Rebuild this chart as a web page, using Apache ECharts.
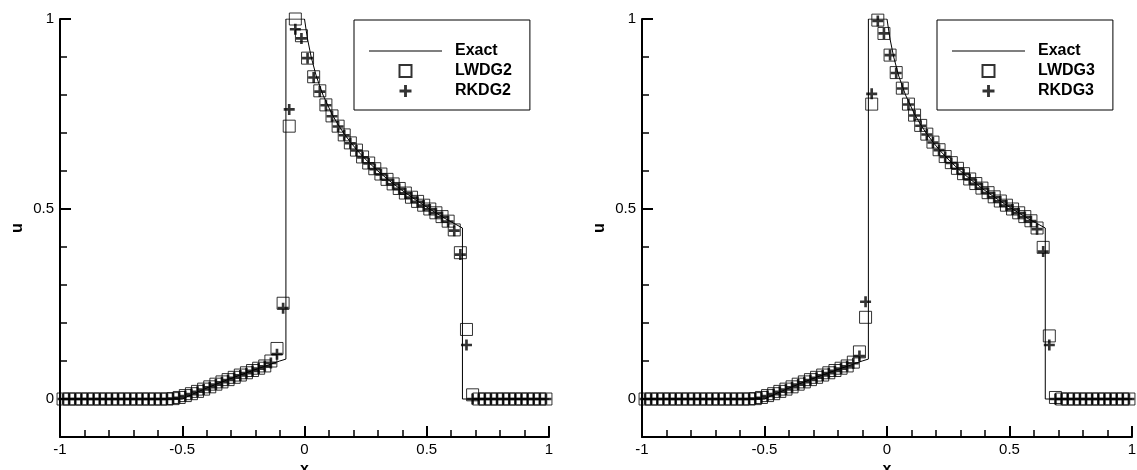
<!DOCTYPE html>
<html>
<head>
<meta charset="utf-8">
<script src="https://cdn.jsdelivr.net/npm/echarts@6/dist/echarts.min.js"></script>
<style>
html,body{margin:0;padding:0;background:#fff;}
#c{width:1137px;height:470px;}
</style>
</head>
<body>
<div id="c"></div>
<script>
// cell centres of the 80-cell mesh
const xCells = [
-0.9875,-0.9625,-0.9375,-0.9125,-0.8875,-0.8625,-0.8375,-0.8125,-0.7875,-0.7625,
-0.7375,-0.7125,-0.6875,-0.6625,-0.6375,-0.6125,-0.5875,-0.5625,-0.5375,-0.5125,
-0.4875,-0.4625,-0.4375,-0.4125,-0.3875,-0.3625,-0.3375,-0.3125,-0.2875,-0.2625,
-0.2375,-0.2125,-0.1875,-0.1625,-0.1375,-0.1125,-0.0875,-0.0625,-0.0375,-0.0125,
0.0125,0.0375,0.0625,0.0875,0.1125,0.1375,0.1625,0.1875,0.2125,0.2375,
0.2625,0.2875,0.3125,0.3375,0.3625,0.3875,0.4125,0.4375,0.4625,0.4875,
0.5125,0.5375,0.5625,0.5875,0.6125,0.6375,0.6625,0.6875,0.7125,0.7375,
0.7625,0.7875,0.8125,0.8375,0.8625,0.8875,0.9125,0.9375,0.9625,0.9875];

// exact solution (polyline)
const exactX = [-1,-0.5,-0.4585,-0.414,-0.367,-0.3175,-0.2657,-0.212,-0.157,-0.1014,-0.076,-0.076,
  0,0.0116,0.0273,0.048,0.0757,0.112,0.1345,0.160,0.1889,0.2216,0.2586,0.30,0.346,0.397,0.4524,0.512,0.575,0.646,0.646,1];
const exactU = [0,0,0.0125,0.025,0.0375,0.05,0.0625,0.075,0.0875,0.1,0.105,1,
  1,0.95,0.9,0.85,0.8,0.75,0.725,0.7,0.675,0.65,0.625,0.6,0.575,0.55,0.525,0.5,0.475,0.45,0,0];

const lwdg2 = [
0,0,0,0,0,0,0,0,0,0,
0,0,0,0,0,0,0,0,0.001,0.004,
0.009,0.014,0.020,0.026,0.032,0.039,0.045,0.051,0.057,0.063,
0.069,0.075,0.081,0.087,0.100,0.133,0.252,0.718,1.000,0.956,
0.897,0.848,0.811,0.774,0.745,0.718,0.695,0.674,0.655,0.637,
0.621,0.606,0.592,0.578,0.566,0.554,0.542,0.531,0.520,0.510,
0.500,0.490,0.480,0.468,0.445,0.385,0.183,0.011,0,0,
0,0,0,0,0,0,0,0,0,0];
const rkdg2 = [
0,0,0,0,0,0,0,0,0,0,
0,0,0,0,0,0,0,0,0.001,0.003,
0.008,0.013,0.019,0.025,0.031,0.038,0.044,0.050,0.056,0.062,
0.068,0.074,0.080,0.086,0.095,0.118,0.239,0.762,0.973,0.949,
0.897,0.846,0.809,0.773,0.744,0.717,0.694,0.673,0.654,0.636,
0.620,0.605,0.591,0.577,0.565,0.553,0.541,0.530,0.519,0.509,
0.499,0.489,0.479,0.467,0.443,0.380,0.142,0,0,0,
0,0,0,0,0,0,0,0,0,0];
const lwdg3 = [
0,0,0,0,0,0,0,0,0,0,
0,0,0,0,0,0,0,0,0.001,0.004,
0.009,0.014,0.020,0.026,0.032,0.039,0.045,0.051,0.057,0.063,
0.069,0.075,0.081,0.087,0.097,0.124,0.215,0.776,0.997,0.962,
0.905,0.859,0.818,0.776,0.747,0.720,0.697,0.676,0.656,0.638,
0.622,0.607,0.593,0.579,0.567,0.555,0.543,0.532,0.521,0.510,
0.500,0.490,0.480,0.469,0.450,0.399,0.166,0.004,0,0,
0,0,0,0,0,0,0,0,0,0];
const rkdg3 = [
0,0,0,0,0,0,0,0,0,0,
0,0,0,0,0,0,0,0,0.001,0.003,
0.008,0.013,0.019,0.025,0.031,0.038,0.044,0.050,0.056,0.062,
0.068,0.074,0.080,0.086,0.094,0.113,0.256,0.803,0.995,0.962,
0.905,0.858,0.817,0.775,0.746,0.719,0.696,0.675,0.655,0.637,
0.621,0.606,0.592,0.578,0.566,0.554,0.542,0.531,0.520,0.509,
0.499,0.489,0.479,0.468,0.447,0.388,0.142,0,0,0,
0,0,0,0,0,0,0,0,0,0];

const yMajor = [0, 0.5, 1];
const yMinor = [0.1,0.2,0.3,0.4,0.6,0.7,0.8,0.9];
const namesL = ['Exact','LWDG2','RKDG2'];
const namesR = ['Exact','LWDG3','RKDG3'];

const FONT = 'Liberation Sans, Arial, Helvetica, sans-serif';
const PLUS = 'path://M3.8,0H6.2V3.8H10V6.2H6.2V10H3.8V6.2H0V3.8H3.8Z';
const SQUARE = 'path://M0,0H10V10H0Z';
const LINEICON = 'path://M0,0H73V1H0Z';
const pairs = (xs, ys) => xs.map((x, i) => [x, ys[i]]);

function xAxisFor(g) {
  return {
    type: 'value', gridIndex: g, min: -1, max: 1, interval: 0.5,
    name: 'x', nameLocation: 'middle', nameGap: 17,
    nameTextStyle: {fontFamily: FONT, fontSize: 16, fontWeight: 'bold', color: '#000'},
    axisLine: {show: true, onZero: false, lineStyle: {color: '#000', width: 2}},
    axisTick: {show: true, inside: true, length: 11, lineStyle: {color: '#000', width: 2}},
    minorTick: {show: true, splitNumber: 5, length: 7, lineStyle: {color: '#000', width: 1.5}},
    axisLabel: {margin: 5, fontFamily: FONT, fontSize: 15, color: '#000',
      formatter: v => String(Math.round(v * 10) / 10)},
    splitLine: {show: false}, minorSplitLine: {show: false}
  };
}
function yAxesFor(g) {
  return [{
    type: 'value', gridIndex: g, min: -0.1, max: 1, position: 'left',
    name: 'u', nameLocation: 'middle', nameGap: 34, nameRotate: 90,
    nameTextStyle: {fontFamily: FONT, fontSize: 16, fontWeight: 'bold', color: '#000'},
    axisLine: {show: true, onZero: false, lineStyle: {color: '#000', width: 2}},
    axisTick: {show: true, inside: true, length: 11, customValues: yMajor, lineStyle: {color: '#000', width: 2}},
    axisLabel: {margin: 6, fontFamily: FONT, fontSize: 15, color: '#000', customValues: yMajor,
      formatter: v => String(Math.round(v * 10) / 10)},
    splitLine: {show: false}
  }, {
    type: 'value', gridIndex: g, min: -0.1, max: 1, position: 'left',
    axisLine: {show: false, onZero: false},
    axisTick: {show: true, inside: true, length: 7, customValues: yMinor, lineStyle: {color: '#000', width: 1.5}},
    axisLabel: {show: false},
    splitLine: {show: false}
  }];
}
function legendFor(left, names) {
  return {
    orient: 'vertical', left: left, top: 20,
    padding: [23, 18, 11, 15], itemGap: 4, itemWidth: 73, itemHeight: 12,
    symbolKeepAspect: true,
    borderColor: '#000', borderWidth: 1, backgroundColor: '#fff',
    selectedMode: false,
    data: [{name: names[0], icon: LINEICON, itemStyle: {color: '#000'}}, names[1], names[2]],
    textStyle: {fontFamily: FONT, fontSize: 16, fontWeight: 'bold', color: '#000',
      lineHeight: 16, padding: [0, 0, 0, 8]}
  };
}
function seriesFor(xi, yi, names, lw, rk) {
  return [{
    name: names[0], type: 'line', xAxisIndex: xi, yAxisIndex: yi,
    data: pairs(exactX, exactU), symbol: 'none', silent: true,
    lineStyle: {color: '#000', width: 1}, itemStyle: {color: '#000'}, z: 2
  }, {
    name: names[1], type: 'scatter', xAxisIndex: xi, yAxisIndex: yi,
    data: pairs(xCells, lw), symbol: SQUARE, symbolSize: 12, symbolKeepAspect: true, silent: true,
    itemStyle: {color: 'rgba(0,0,0,0)', borderColor: '#000', borderWidth: 1}, z: 3
  }, {
    name: names[2], type: 'scatter', xAxisIndex: xi, yAxisIndex: yi,
    data: pairs(xCells, rk), symbol: PLUS, symbolSize: 11, symbolKeepAspect: true, silent: true,
    itemStyle: {color: '#000'}, z: 4
  }];
}

const chart = echarts.init(document.getElementById('c'), null, {renderer: 'canvas'});
chart.setOption({
  animation: false,
  backgroundColor: '#fff',
  grid: [
    {left: 60, right: 588, top: 19, bottom: 33, outerBoundsMode: 'none', containLabel: false},
    {left: 642, right: 5, top: 19, bottom: 33, outerBoundsMode: 'none', containLabel: false}
  ],
  xAxis: [xAxisFor(0), xAxisFor(1)],
  yAxis: [...yAxesFor(0), ...yAxesFor(1)],
  legend: [legendFor(354, namesL), legendFor(937, namesR)],
  series: [
    ...seriesFor(0, 0, namesL, lwdg2, rkdg2),
    ...seriesFor(1, 2, namesR, lwdg3, rkdg3)
  ]
});
</script>
</body>
</html>
